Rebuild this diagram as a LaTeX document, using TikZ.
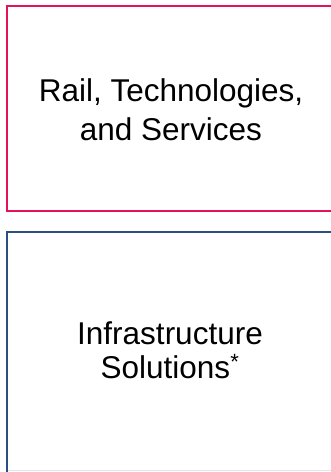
\documentclass[tikz,border=0pt]{standalone}
\usepackage{fontspec}
\setmainfont{Liberation Sans}
\usepackage{xcolor}
\definecolor{railred}{RGB}{228,18,90}
\definecolor{infrablue}{RGB}{42,80,130}
\definecolor{rulegray}{RGB}{226,228,232}
\tikzset{
  segbox/.style={rectangle, draw, line width=2pt, minimum width=328pt, inner sep=0pt},
  segtext/.style={align=center, inner sep=0pt, font=\fontsize{31.5}{39}\selectfont},
}

\begin{document}
\begin{tikzpicture}[x=1pt, y=-1pt]
  \useasboundingbox (0,0) rectangle (331,472);
  \clip (0,0) rectangle (331,472);

  \coordinate (rulestart) at (8,470.5);
  \coordinate (ruleend) at (331,470.5);
  \draw[rulegray, line width=1.5pt] (rulestart) -- (ruleend);

  \node[segbox, draw=railred, minimum height=205pt] (rail) at (171,108.5) {};
  \node[segbox, draw=infrablue, minimum height=248pt] (infra) at (171,356) {};

  \node[segtext] (railtext) at (171,110) {Rail, Technologies,\\and Services};
  \node[segtext, font=\fontsize{31.5}{34}\selectfont] (infratext) at (170,350) {Infrastructure\\Solutions\textsuperscript{*}};
\end{tikzpicture}
\end{document}
